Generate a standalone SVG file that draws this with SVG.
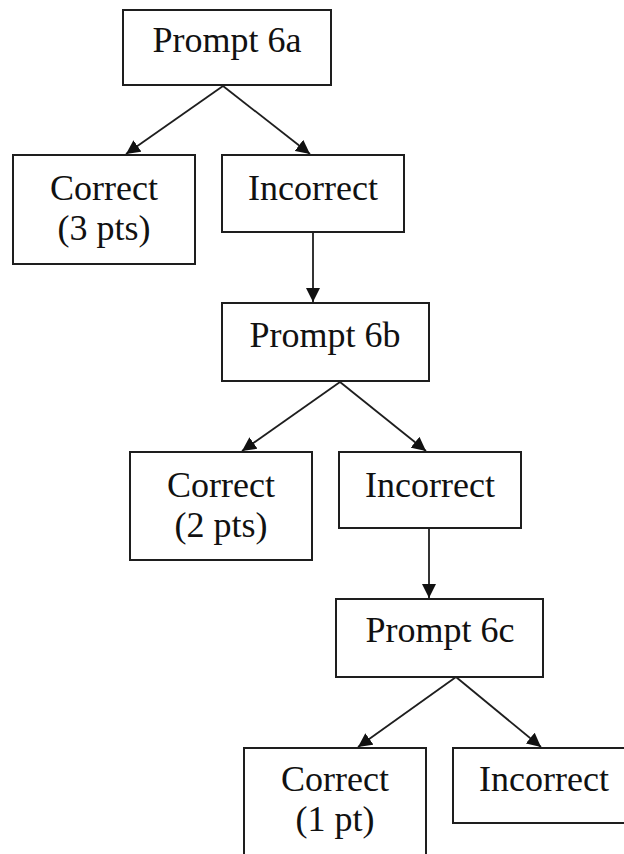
<svg xmlns="http://www.w3.org/2000/svg" width="624" height="854" viewBox="0 0 624 854">
  <defs>
    <style>
      .box { fill: #ffffff; stroke: #1e1e1e; stroke-width: 2; }
      .lbl { font-family: 'Liberation Serif', 'Times New Roman', 'DejaVu Serif', serif; font-size: 36px; fill: #111111; text-anchor: middle; }
      .edge { stroke: #1e1e1e; stroke-width: 1.8; fill: none; marker-end: url(#head); }
    </style>
    <!-- filled triangular arrowhead, tip sits on the line end -->
    <marker id="head" markerUnits="userSpaceOnUse" markerWidth="15" markerHeight="14" refX="14" refY="7" orient="auto">
      <path d="M0,0 L14,7 L0,14 Z" fill="#111111"/>
    </marker>
  </defs>
  <rect width="624" height="854" fill="#ffffff"/>

  <g id="connectors">
    <line class="edge" x1="223" y1="86" x2="126" y2="154"/>
    <line class="edge" x1="223" y1="86" x2="310" y2="154"/>
    <line class="edge" x1="313" y1="232" x2="313" y2="302"/>
    <line class="edge" x1="340" y1="382" x2="242" y2="451"/>
    <line class="edge" x1="340" y1="382" x2="426" y2="451"/>
    <line class="edge" x1="429" y1="528" x2="429" y2="598"/>
    <line class="edge" x1="456" y1="677" x2="358" y2="747"/>
    <line class="edge" x1="456" y1="677" x2="541" y2="747"/>
  </g>

  <g id="prompt-6a">
    <rect class="box" x="123" y="10" width="208" height="75"/>
    <text class="lbl" x="227" y="52">Prompt 6a</text>
  </g>
  <g id="correct-3">
    <rect class="box" x="13" y="155" width="182" height="109"/>
    <text class="lbl" x="104" y="200">Correct</text>
    <text class="lbl" x="104" y="240">(3 pts)</text>
  </g>
  <g id="incorrect-a">
    <rect class="box" x="222" y="155" width="182" height="77"/>
    <text class="lbl" x="313" y="200">Incorrect</text>
  </g>

  <g id="prompt-6b">
    <rect class="box" x="222" y="303" width="207" height="78"/>
    <text class="lbl" x="325" y="347">Prompt 6b</text>
  </g>
  <g id="correct-2">
    <rect class="box" x="130" y="452" width="182" height="108"/>
    <text class="lbl" x="221" y="497">Correct</text>
    <text class="lbl" x="221" y="537">(2 pts)</text>
  </g>
  <g id="incorrect-b">
    <rect class="box" x="339" y="452" width="182" height="76"/>
    <text class="lbl" x="430" y="497">Incorrect</text>
  </g>

  <g id="prompt-6c">
    <rect class="box" x="336" y="599" width="207" height="78"/>
    <text class="lbl" x="440" y="642">Prompt 6c</text>
  </g>
  <g id="correct-1">
    <rect class="box" x="244" y="748" width="182" height="108"/>
    <text class="lbl" x="335" y="791">Correct</text>
    <text class="lbl" x="335" y="831">(1 pt)</text>
  </g>
  <g id="incorrect-c">
    <rect class="box" x="453" y="748" width="190" height="75"/>
    <text class="lbl" x="544" y="791">Incorrect</text>
  </g>
</svg>
